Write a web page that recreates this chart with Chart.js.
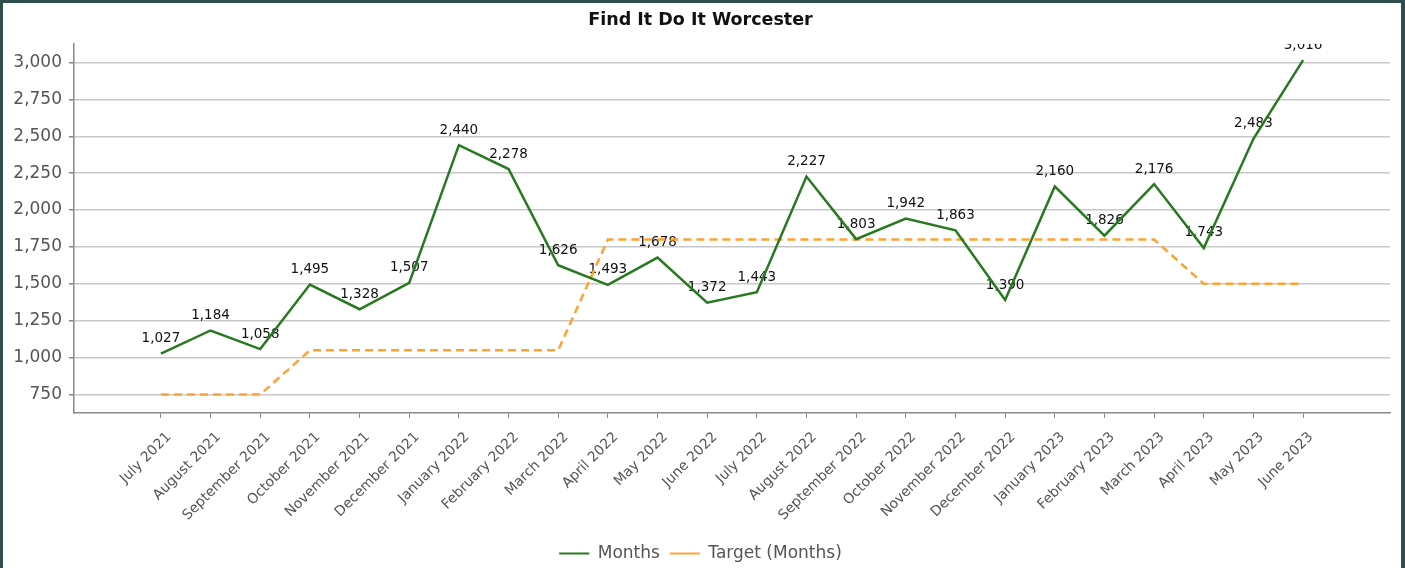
<!DOCTYPE html>
<html><head><meta charset="utf-8">
<script src="https://cdn.jsdelivr.net/npm/chart.js@4.4.1/dist/chart.umd.min.js"></script>
<style>
html,body{margin:0;padding:0;background:#fff;}
#wrap{position:relative;width:1405px;height:568px;overflow:hidden;background:#fff;}
canvas{position:absolute;left:0;top:0;}
#frame{position:absolute;left:0;top:0;width:1405px;height:568px;box-sizing:border-box;border-left:3px solid #2f4f4f;border-top:3px solid #2f4f4f;border-right:4px solid #2f4f4f;pointer-events:none;}
</style></head><body>
<div id="wrap"><canvas id="c" width="1405" height="568"></canvas><div id="frame"></div></div>
<script>
const chartTitle = 'Find It Do It Worcester';
const categories = ['July 2021','August 2021','September 2021','October 2021','November 2021','December 2021','January 2022','February 2022','March 2022','April 2022','May 2022','June 2022','July 2022','August 2022','September 2022','October 2022','November 2022','December 2022','January 2023','February 2023','March 2023','April 2023','May 2023','June 2023'];
const monthsValues = [1027,1184,1058,1495,1328,1507,2440,2278,1626,1493,1678,1372,1443,2227,1803,1942,1863,1390,2160,1826,2176,1743,2483,3016];
const targetValues = [750,750,750,1050,1050,1050,1050,1050,1050,1800,1800,1800,1800,1800,1800,1800,1800,1800,1800,1800,1800,1500,1500,1500];
const yTickValues = [750,1000,1250,1500,1750,2000,2250,2500,2750,3000];
const seriesNames = ['Months','Target (Months)'];

const FONT = '"DejaVu Sans", Verdana, sans-serif';
const fmt = v => Number(v).toLocaleString('en-US');

const dataLabels = {
  id: 'dataLabels',
  beforeDatasetsDraw(chart) {
    const meta = chart.getDatasetMeta(0);
    const ctx = chart.ctx, a = chart.chartArea;
    ctx.save();
    ctx.beginPath();
    ctx.rect(a.left, a.top, a.right - a.left, a.bottom - a.top);
    ctx.clip();
    ctx.font = '13.5px ' + FONT;
    ctx.fillStyle = '#111';
    ctx.textAlign = 'center';
    ctx.textBaseline = 'middle';
    meta.data.forEach((pt, i) => {
      ctx.fillText(fmt(monthsValues[i]), pt.x, pt.y - 15);
    });
    ctx.restore();
  }
};

// shift rotated x tick labels slightly to the right, like the reference
const shiftXLabels = {
  id: 'shiftXLabels',
  afterLayout(chart) {
    const sx = chart.scales.x;
    if (sx && !sx._shifted) {
      const orig = sx.drawLabels;
      sx.drawLabels = function(area) {
        const ctx = this.ctx;
        ctx.save();
        ctx.translate(8, 0);
        orig.call(this, area);
        ctx.restore();
      };
      sx._shifted = true;
    }
  }
};

new Chart(document.getElementById('c'), {
  type: 'line',
  data: {
    datasets: [
      { label: seriesNames[0], data: monthsValues.map((v, i) => ({x: i, y: v})), borderColor: '#27791f', backgroundColor: '#27791f', borderWidth: 2.5, pointRadius: 0, tension: 0 },
      { label: seriesNames[1], data: targetValues.map((v, i) => ({x: i, y: v})), borderColor: '#ffa133', backgroundColor: '#ffa133', borderWidth: 2.5, borderDash: [8, 5], pointRadius: 0, tension: 0 }
    ]
  },
  options: {
    responsive: false,
    animation: false,
    devicePixelRatio: 1,
    layout: { padding: { left: 11, right: 15, top: 0, bottom: -4 } },
    plugins: {
      title: { display: true, text: chartTitle, color: '#111', font: { family: FONT, size: 17.5, weight: 'bold' }, padding: { top: 10, bottom: 13 } },
      legend: {
        position: 'bottom',
        labels: {
          usePointStyle: true, pointStyle: 'line', pointStyleWidth: 30,
          color: '#555', font: { family: FONT, size: 17 }, padding: 10,
          generateLabels(chart) {
            const items = Chart.defaults.plugins.legend.labels.generateLabels(chart);
            items.forEach(it => { it.lineDash = []; it.pointStyle = 'line'; it.lineWidth = 2; });
            return items;
          }
        }
      },
      tooltip: { enabled: false }
    },
    scales: {
      x: {
        type: 'linear', min: -1.75, max: 24.75,
        afterBuildTicks: s => { s.ticks = categories.map((c, i) => ({ value: i })); },
        afterFit: s => { s.height = 122; },
        ticks: { callback: v => categories[v] ?? '', minRotation: 45, maxRotation: 45, autoSkip: false, color: '#555', font: { family: FONT, size: 14 }, padding: 11 },
        grid: { drawOnChartArea: false, tickLength: 5, tickColor: '#888', color: '#888' },
        border: { color: '#888', width: 1.5 }
      },
      y: {
        min: 625, max: 3125,
        afterBuildTicks: s => { s.ticks = yTickValues.map(v => ({ value: v })); },
        afterFit: s => { s.width = 63; },
        ticks: { callback: v => fmt(v), color: '#555', font: { family: FONT, size: 17 }, padding: 7 },
        grid: { color: '#c8c8c8', lineWidth: 1.5, tickLength: 5, tickColor: '#888' },
        border: { color: '#888', width: 1.5 }
      }
    }
  },
  plugins: [dataLabels, shiftXLabels]
});
</script>
</body></html>
